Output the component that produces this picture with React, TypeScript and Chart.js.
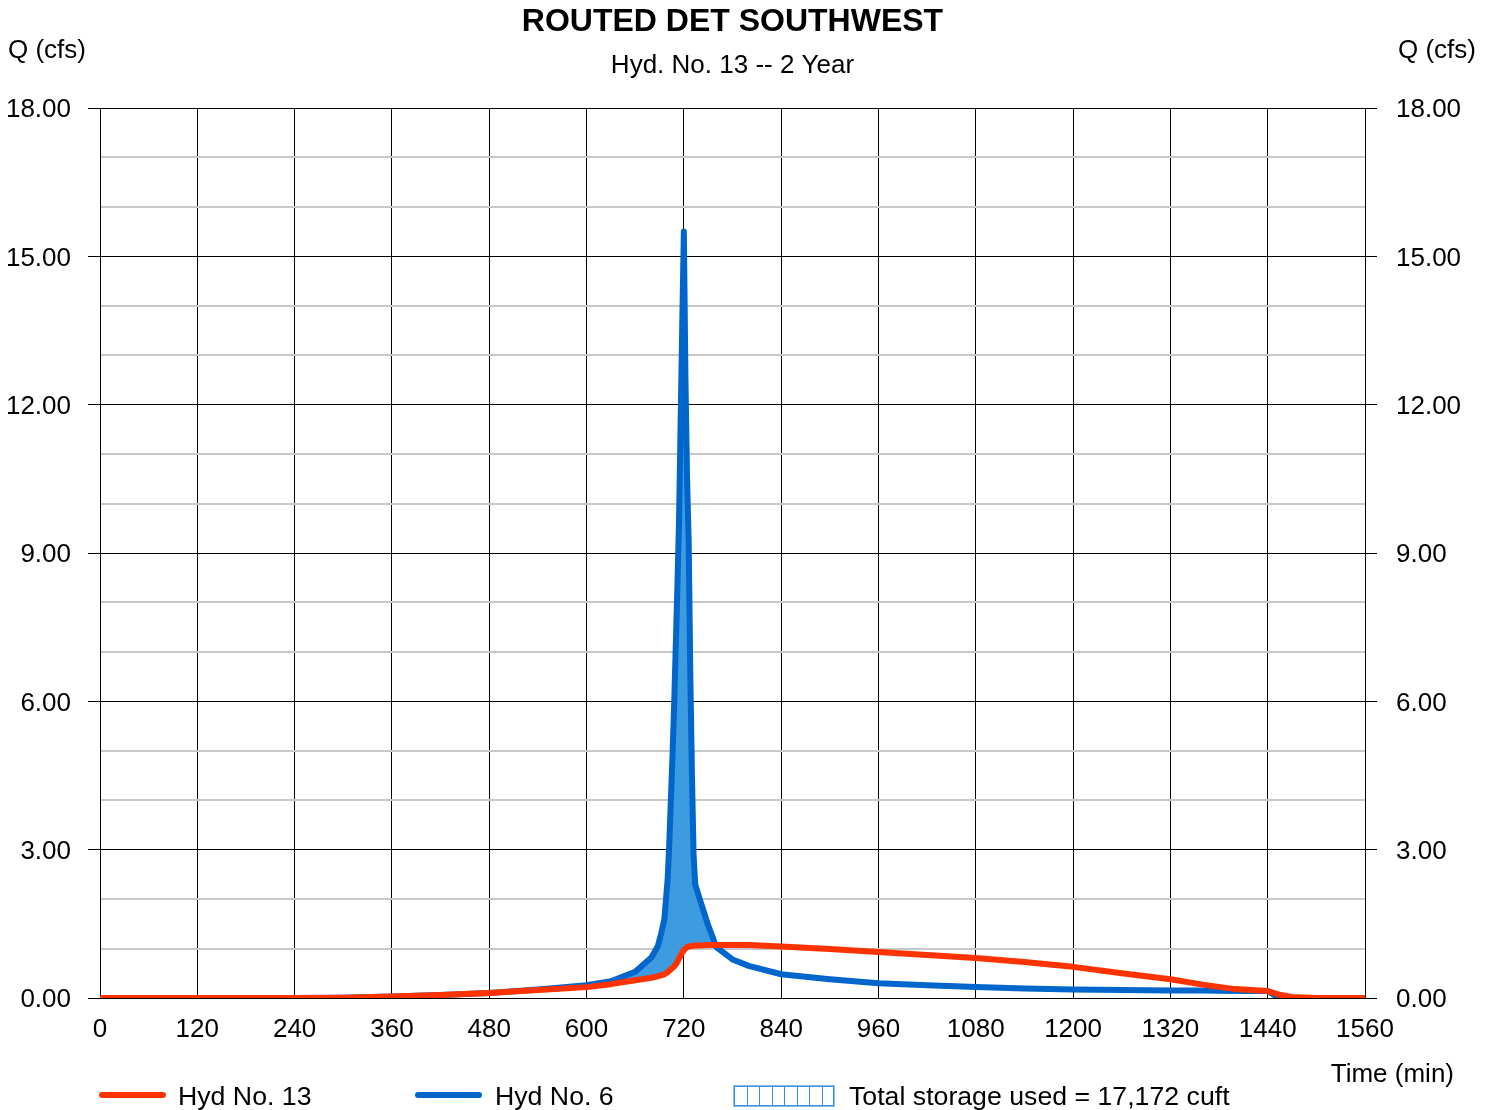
import React, { useEffect, useRef } from "react";
import { Chart, registerables } from "chart.js";

Chart.register(...registerables);

const TITLE = "ROUTED DET SOUTHWEST";
const SUBTITLE = "Hyd. No. 13 -- 2 Year";
const Y_LABEL = "Q (cfs)";
const X_LABEL = "Time (min)";
const LEGEND_RED = "Hyd No. 13";
const LEGEND_BLUE = "Hyd No. 6";
const LEGEND_STORAGE = "Total storage used = 17,172 cuft";

const times = [
  0, 240, 300, 360, 420, 480, 540, 600, 630, 660,
  680, 688, 692, 696, 700, 702, 704, 706, 708, 710,
  712, 714, 716, 718, 720, 722, 724, 726, 728, 730,
  732, 734, 740, 750, 760, 780, 800, 840, 900, 960,
  1020, 1080, 1140, 1200, 1260, 1320, 1360, 1400, 1440, 1448,
  1456, 1470, 1500, 1560,
];

const hyd13 = [
  0, 0, 0.005, 0.03, 0.06, 0.1, 0.16, 0.22, 0.28, 0.36,
  0.41, 0.44, 0.46, 0.48, 0.52, 0.55, 0.58, 0.61, 0.64, 0.68,
  0.73, 0.8, 0.86, 0.92, 0.97, 1.0, 1.03, 1.04, 1.05, 1.05,
  1.06, 1.06, 1.06, 1.07, 1.07, 1.07, 1.07, 1.04, 0.99, 0.93,
  0.87, 0.81, 0.73, 0.63, 0.5, 0.38, 0.27, 0.18, 0.14, 0.1,
  0.06, 0.02, 0, 0,
];

const hyd6 = [
  0, 0, 0.005, 0.03, 0.06, 0.1, 0.17, 0.26, 0.34, 0.53,
  0.82, 1.05, 1.3, 1.6, 2.4, 3.1, 4.0, 4.9, 5.9, 7.1,
  8.3, 9.6, 11.6, 13.6, 15.5, 12.5, 10.5, 9.2, 6.5, 4.5,
  2.9, 2.3, 1.98, 1.47, 1.03, 0.78, 0.65, 0.48, 0.38, 0.3,
  0.26, 0.22, 0.19, 0.17, 0.16, 0.15, 0.15, 0.14, 0.14, 0.06,
  0, 0, 0, 0,
];

const Y_MAX = 18;
const Y_STEP = 1;
const Y_MAJOR = 3;
const X_MAX = 1560;
const X_STEP = 120;

const RED = "#ff3300";
const BLUE = "#0066cc";
const FILL = "#3d9be0";
const FONT = "'Liberation Sans', Arial, sans-serif";

const textPlugin = {
  id: "texts",
  afterDraw(chart: any) {
    const { ctx, chartArea } = chart;
    const cx = (chartArea.left + chartArea.right) / 2;
    ctx.save();
    ctx.fillStyle = "#000";
    ctx.textBaseline = "middle";
    ctx.textAlign = "center";
    ctx.font = `bold 32px ${FONT}`;
    ctx.fillText(TITLE, cx, 22);
    ctx.font = `26px ${FONT}`;
    ctx.fillText(SUBTITLE, cx, 66);
    ctx.textAlign = "left";
    ctx.fillText(Y_LABEL, 8, 51);
    ctx.textAlign = "right";
    ctx.fillText(Y_LABEL, 1476, 51);
    ctx.fillText(X_LABEL, 1454, 1075);

    // legend
    const ly = 1098;
    ctx.lineCap = "round";
    ctx.lineWidth = 6;
    ctx.strokeStyle = RED;
    ctx.beginPath();
    ctx.moveTo(102, ly - 3);
    ctx.lineTo(163, ly - 3);
    ctx.stroke();
    ctx.strokeStyle = BLUE;
    ctx.beginPath();
    ctx.moveTo(418, ly - 3);
    ctx.lineTo(479, ly - 3);
    ctx.stroke();
    ctx.textAlign = "left";
    ctx.font = `26.7px ${FONT}`;
    ctx.fillText(LEGEND_RED, 178, ly);
    ctx.fillText(LEGEND_BLUE, 495, ly);
    ctx.fillText(LEGEND_STORAGE, 849, ly);

    // hatched storage box
    const bx = 734, by = 1086, bw = 100, bh = 20;
    ctx.lineCap = "butt";
    ctx.strokeStyle = "#8cc0ee";
    ctx.lineWidth = 2;
    ctx.strokeRect(bx, by, bw, bh);
    ctx.strokeStyle = "#3a8ee0";
    ctx.lineWidth = 1;
    ctx.strokeRect(bx + 0.5, by + 0.5, bw - 1, bh - 1);
    for (let i = 1; i < 8; i++) {
      const x = Math.round(bx + (bw * i) / 8) + 0.5;
      ctx.beginPath();
      ctx.moveTo(x, by);
      ctx.lineTo(x, by + bh);
      ctx.stroke();
    }
    ctx.restore();
  },
};

export default function App() {
  const ref = useRef<HTMLCanvasElement | null>(null);

  useEffect(() => {
    document.body.style.margin = "0";
    const canvas = ref.current;
    if (!canvas) return;
    const red = times.map((t, i) => ({ x: t, y: hyd13[i] }));
    const blue = times.map((t, i) => ({ x: t, y: hyd6[i] }));
    const isMajor = (v: number) => Math.abs(v % Y_MAJOR) < 1e-9;

    const chart = new Chart(canvas, {
      type: "line",
      data: {
        datasets: [
          {
            label: LEGEND_RED,
            data: red,
            borderColor: RED,
            borderWidth: 6,
            pointRadius: 0,
            tension: 0,
            fill: false,
            borderCapStyle: "round",
            borderJoinStyle: "round",
          },
          {
            label: LEGEND_BLUE,
            data: blue,
            borderColor: BLUE,
            borderWidth: 6,
            pointRadius: 0,
            tension: 0,
            fill: { target: 0, above: FILL, below: "rgba(0,0,0,0)" },
            borderCapStyle: "round",
            borderJoinStyle: "round",
          },
        ],
      },
      options: {
        animation: false,
        responsive: true,
        maintainAspectRatio: false,
        layout: { padding: { top: 108, left: 0, right: 0, bottom: 0 } },
        plugins: { legend: { display: false }, title: { display: false }, tooltip: { enabled: false } },
        scales: {
          x: {
            type: "linear",
            min: 0,
            max: X_MAX,
            afterFit: (s: any) => {
              s.height = 112;
            },
            ticks: {
              stepSize: X_STEP,
              autoSkip: false,
              maxRotation: 0,
              color: "#000",
              padding: 16,
              font: { family: FONT, size: 26 },
              callback: (v: any) => String(v),
            },
            grid: { color: "#000", lineWidth: 1, drawTicks: false },
            border: { display: true, color: "#000", width: 1 },
          },
          y: {
            type: "linear",
            position: "left",
            min: 0,
            max: Y_MAX,
            afterFit: (s: any) => {
              s.width = 100;
            },
            ticks: {
              stepSize: Y_STEP,
              autoSkip: false,
              color: "#000",
              padding: 17,
              labelOffset: 2,
              font: { family: FONT, size: 26 },
              callback: (v: any) => (isMajor(Number(v)) ? Number(v).toFixed(2) : ""),
            },
            grid: {
              color: (c: any) => (c.tick && !isMajor(c.tick.value) ? "#c8c8c8" : "#000"),
              lineWidth: (c: any) => (c.tick && !isMajor(c.tick.value) ? 2 : 1),
              tickColor: (c: any) => (c.tick && !isMajor(c.tick.value) ? "rgba(0,0,0,0)" : "#000"),
              tickLength: 12,
              drawTicks: true,
            },
            border: { display: true, color: "#000", width: 1 },
          },
          y2: {
            type: "linear",
            position: "right",
            min: 0,
            max: Y_MAX,
            afterFit: (s: any) => {
              s.width = 129;
            },
            ticks: {
              stepSize: Y_STEP,
              autoSkip: false,
              color: "#000",
              padding: 19,
              labelOffset: 2,
              font: { family: FONT, size: 26 },
              callback: (v: any) => (isMajor(Number(v)) ? Number(v).toFixed(2) : ""),
            },
            grid: {
              drawOnChartArea: false,
              tickColor: (c: any) => (c.tick && !isMajor(c.tick.value) ? "rgba(0,0,0,0)" : "#000"),
              tickLength: 12,
              drawTicks: true,
            },
            border: { display: true, color: "#000", width: 1 },
          },
        },
      } as any,
      plugins: [textPlugin],
    });
    return () => chart.destroy();
  }, []);

  return (
    <div style={{ position: "absolute", left: 0, top: 0, width: 1494, height: 1110, background: "#fff" }}>
      <canvas ref={ref} />
    </div>
  );
}
